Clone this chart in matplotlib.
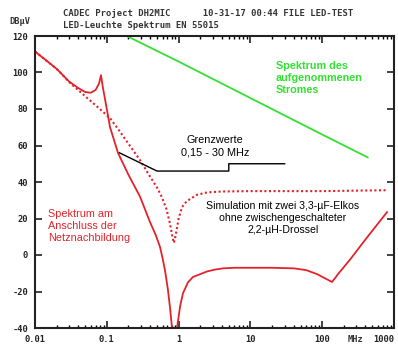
import numpy as np
import matplotlib
matplotlib.use('Agg')
from matplotlib import pyplot as plt
from matplotlib.ticker import FixedLocator, NullFormatter

# Messwerte / Kurven (MHz, dBuV)
f_spek = [0.01, 0.015, 0.02, 0.03, 0.04, 0.05, 0.06, 0.07, 0.078, 0.083, 0.088, 0.1, 0.111,
          0.143, 0.2, 0.29, 0.4, 0.48, 0.55, 0.6, 0.65, 0.71, 0.76, 0.81, 0.87, 0.95, 1.05,
          1.15, 1.35, 1.59, 2.0, 2.5, 3.2, 4.2, 6, 10, 20, 40, 60, 85, 110, 137, 170, 250,
          400, 600, 800]
db_spek = [111.5, 106, 102, 95, 91.5, 89.3, 88.9, 90.5, 94, 98.5, 92, 80, 70,
           56, 44, 32, 18, 11, 4.5, -2, -9, -19, -29, -40, -60, -40, -28,
           -21, -15, -12, -10.5, -9, -8, -7.3, -7, -7, -7, -7.3, -8.3, -10.5, -12.8, -14.8, -10, -2,
           8.5, 17.3, 23.5]

f_sim = [0.01, 0.02, 0.031, 0.05, 0.08, 0.111, 0.15, 0.2, 0.29, 0.4, 0.5, 0.58, 0.68, 0.76,
         0.82, 0.86, 0.9, 0.94, 1.0, 1.12, 1.3, 1.8, 2.5, 4, 10, 100, 800]
db_sim = [111.5, 102, 94.2, 87, 80, 75, 68, 61, 52, 43, 37, 32, 25, 17,
          10, 6.6, 10, 13.7, 20, 26.3, 29.5, 33, 34.3, 34.8, 35, 35, 35.5]

f_strom = [0.19, 1, 10, 100, 430]
db_strom = [120, 106, 86, 66, 53.5]

f_grenz = [0.15, 0.5, 5, 5, 30]
db_grenz = [56, 46, 46, 50, 50]

x_ticks = [0.01, 0.1, 1, 10, 100, 1000]
x_labels = ['0.01', '0.1', '1', '10', '100', '1000']
y_ticks = [-40, -20, 0, 20, 40, 60, 80, 100, 120]

rot = '#e3232b'
gruen = '#33e033'
mono = 'DejaVu Sans Mono'
sans = 'Liberation Sans'

fig = plt.figure(figsize=(3.98, 3.47), dpi=100)
ax = fig.add_axes([35/398, 19/347, 359/398, 292/347])

ax.plot(f_spek, db_spek, color=rot, lw=1.3)
ax.plot(f_sim, db_sim, color=rot, lw=1.5, ls=(0, (1, 1.2)))
ax.plot(f_strom, db_strom, color=gruen, lw=1.3)
ax.plot(f_grenz, db_grenz, color='black', lw=1.0)

ax.set_xscale('log')
ax.set_xlim(0.01, 1000)
ax.set_ylim(-40, 120)

ax.xaxis.set_major_locator(FixedLocator(x_ticks))
ax.set_xticklabels(x_labels)
minor = [m * d for d in [0.01, 0.1, 1, 10, 100] for m in range(2, 10)]
ax.xaxis.set_minor_locator(FixedLocator(minor))
ax.xaxis.set_minor_formatter(NullFormatter())
ax.set_yticks(y_ticks)
ax.set_yticklabels([str(v) for v in y_ticks])

ax.tick_params(which='major', direction='in', length=5, width=1.2, top=True, right=True,
               labelsize=6.3, colors='#222222', pad=5)
ax.tick_params(which='minor', direction='in', length=2.5, width=1, top=True, bottom=True)
ax.tick_params(axis='y', which='minor', left=False, right=False)
for lab in ax.get_xticklabels() + ax.get_yticklabels():
    lab.set_fontfamily(mono)
    lab.set_fontweight('bold')
ax.get_xticklabels()[-1].set_horizontalalignment('right')
for sp in ax.spines.values():
    sp.set_linewidth(1.5)
    sp.set_color('#222222')

# Kopfzeilen
fig.text(63/398, 1-14/347, 'CADEC Project DH2MIC      10-31-17 00:44 FILE LED-TEST',
         family=mono, weight='bold', size=6.4, color='#333333', va='center')
fig.text(63/398, 1-25/347, 'LED-Leuchte Spektrum EN 55015',
         family=mono, weight='bold', size=6.4, color='#333333', va='center')
fig.text(20/398, 1-22/347, 'DBµV', family=mono, weight='bold', size=6.2,
         color='#333333', va='center', ha='center')
fig.text(355/398, 1-340/347, 'MHz', family=mono, weight='bold', size=6.2,
         color='#333333', va='center', ha='center')

# Beschriftungen
fig.text(276/398, 1-78/347, 'Spektrum des\naufgenommenen\nStromes', color=gruen,
         family=sans, weight='bold', size=7.8, va='center', ha='left', linespacing=1.3)
fig.text(215/398, 1-146/347, 'Grenzwerte\n0,15 - 30 MHz', color='black',
         family=sans, size=7.8, va='center', ha='center', linespacing=1.25)
fig.text(283/398, 1-218/347, 'Simulation mit zwei 3,3-µF-Elkos\nohne zwischengeschalteter\n2,2-µH-Drossel',
         color='black', family=sans, size=7.6, va='center', ha='center', linespacing=1.3)
fig.text(48/398, 1-226/347, 'Spektrum am\nAnschluss der\nNetznachbildung', color=rot,
         family=sans, size=7.8, va='center', ha='left', linespacing=1.3)

fig.savefig('out.png', dpi=100)
